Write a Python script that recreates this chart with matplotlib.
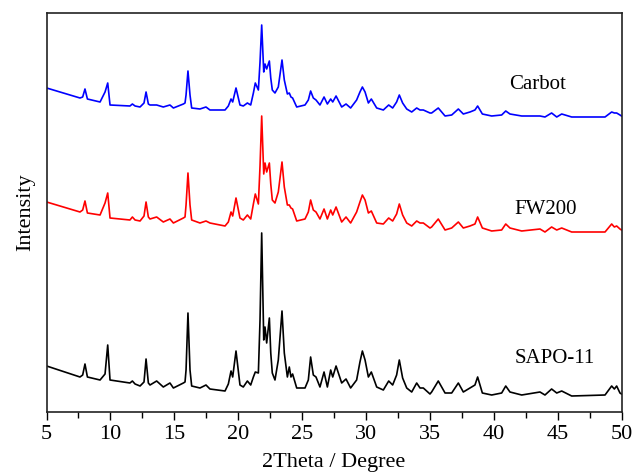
import matplotlib
matplotlib.use("Agg")
import matplotlib.pyplot as plt
from matplotlib.ticker import MultipleLocator

# 2Theta positions (degree), shared by the three scans
two_theta = [5.01, 7.62, 7.83, 8.01, 8.20, 9.19, 9.58, 9.79, 9.97, 11.53,
             11.72, 11.93, 12.32, 12.63, 12.79, 12.97, 13.10, 13.62, 14.14, 14.66,
             14.93, 15.71, 15.84, 15.92, 16.07, 16.23, 16.36, 17.01, 17.48, 17.79,
             18.97, 19.23, 19.44, 19.57, 19.83, 20.14, 20.40, 20.72, 20.98, 21.19,
             21.34, 21.58, 21.71, 21.84, 22.00, 22.10, 22.23, 22.44, 22.55, 22.67,
             22.88, 23.14, 23.43, 23.61, 23.85, 24.00, 24.13, 24.26, 24.58, 25.23,
             25.49, 25.67, 25.88, 26.09, 26.40, 26.72, 26.98, 27.24, 27.40, 27.66,
             28.10, 28.44, 28.80, 29.27, 29.53, 29.72, 29.93, 30.19, 30.42, 30.84,
             31.36, 31.78, 32.09, 32.40, 32.61, 32.87, 33.19, 33.58, 33.97, 34.23,
             34.49, 35.01, 35.14, 35.66, 36.19, 36.71, 37.23, 37.62, 38.14, 38.53,
             38.74, 39.11, 39.84, 40.62, 40.94, 41.27, 42.19, 43.62, 44.01, 44.53,
             44.93, 45.32, 46.10, 48.71, 49.23, 49.44, 49.62, 49.88, 50.0]

# intensities (a.u., curves already stacked with offset)
sapo11 = [46, 35, 37, 48, 35, 32, 38, 67, 32, 29,
          31, 28, 26, 30, 53, 29, 27, 31, 25, 29,
          24, 29, 30, 42, 99, 42, 26, 24, 27, 23,
          21, 28, 41, 35, 61, 27, 25, 31, 27, 35,
          40, 39, 92, 179, 72, 85, 69, 94, 59, 39,
          32, 52, 101, 59, 35, 45, 35, 38, 24, 24,
          32, 55, 37, 35, 25, 40, 25, 42, 35, 46,
          29, 33, 24, 32, 50, 61, 52, 35, 40, 25,
          22, 31, 27, 37, 52, 34, 24, 20, 29, 24,
          24, 18, 20, 31, 19, 19, 29, 20, 24, 27,
          35, 19, 17, 19, 26, 20, 17, 20, 17, 23,
          19, 21, 16, 17, 26, 23, 26, 19, 18]

fw200 = [210, 200, 202, 211, 199, 197, 209, 219, 194, 192,
         195, 192, 191, 196, 210, 195, 193, 195, 190, 193,
         189, 194, 195, 207, 239, 207, 192, 189, 191, 189,
         186, 190, 200, 196, 214, 194, 192, 197, 193, 208,
         218, 208, 246, 296, 238, 249, 240, 249, 228, 212,
         209, 220, 250, 225, 207, 207, 204, 203, 191, 193,
         200, 212, 202, 200, 193, 203, 193, 202, 197, 205,
         190, 195, 189, 200, 210, 217, 212, 199, 201, 189,
         188, 194, 191, 198, 208, 197, 189, 186, 191, 189,
         189, 184, 185, 193, 182, 184, 190, 184, 186, 188,
         195, 184, 181, 182, 188, 184, 181, 183, 180, 185,
         182, 184, 180, 180, 188, 185, 186, 183, 182]

carbot = [324, 314, 315, 323, 313, 310, 320, 329, 307, 306,
          308, 306, 305, 309, 320, 308, 307, 307, 305, 307,
          304, 308, 309, 317, 341, 317, 304, 303, 305, 302,
          302, 306, 313, 310, 324, 307, 306, 309, 307, 319,
          329, 322, 350, 387, 340, 348, 343, 351, 334, 322,
          319, 325, 352, 332, 318, 319, 315, 314, 305, 307,
          312, 321, 314, 312, 307, 315, 308, 313, 310, 316,
          305, 308, 304, 312, 320, 325, 320, 309, 313, 304,
          302, 307, 304, 310, 317, 309, 303, 300, 304, 302,
          302, 299, 299, 304, 296, 297, 303, 298, 300, 302,
          306, 298, 296, 297, 301, 298, 296, 296, 295, 299,
          295, 298, 295, 295, 300, 299, 299, 297, 296]

labels = ["Carbot", "FW200", "SAPO-11"]

plt.rcParams['font.family'] = ['Liberation Serif', 'DejaVu Serif']

fig = plt.figure(figsize=(6.32, 4.76), dpi=100)
ax = fig.add_axes([0.0736, 0.1355, 0.9098, 0.8372])

ax.plot(two_theta, carbot, color='#0000ff', lw=1.2)
ax.plot(two_theta, fw200, color='#ff0000', lw=1.2)
ax.plot(two_theta, sapo11, color='black', lw=1.2)

ax.text(43.4, 327, labels[0], fontsize=15, ha='center', va='center')
ax.text(44.1, 202, labels[1], fontsize=15, ha='center', va='center')
ax.text(44.8, 54, labels[2], fontsize=15, ha='center', va='center')

ax.set_xlim(5, 50)
ax.set_ylim(0.5, 399)
ax.xaxis.set_major_locator(MultipleLocator(5))
ax.xaxis.set_minor_locator(MultipleLocator(2.5))
ax.set_yticks([])
ax.tick_params(axis='x', which='major', direction='out', length=6, width=1,
               labelsize=16, pad=4)
ax.tick_params(axis='x', which='minor', direction='out', length=4, width=1)
for s in ax.spines.values():
    s.set_linewidth(1.2)
    s.set_color('#222222')

ax.set_xlabel('2Theta / Degree', fontsize=16, labelpad=6)
ax.set_ylabel('Intensity', fontsize=16, labelpad=8)

fig.savefig('out.png', dpi=100)
